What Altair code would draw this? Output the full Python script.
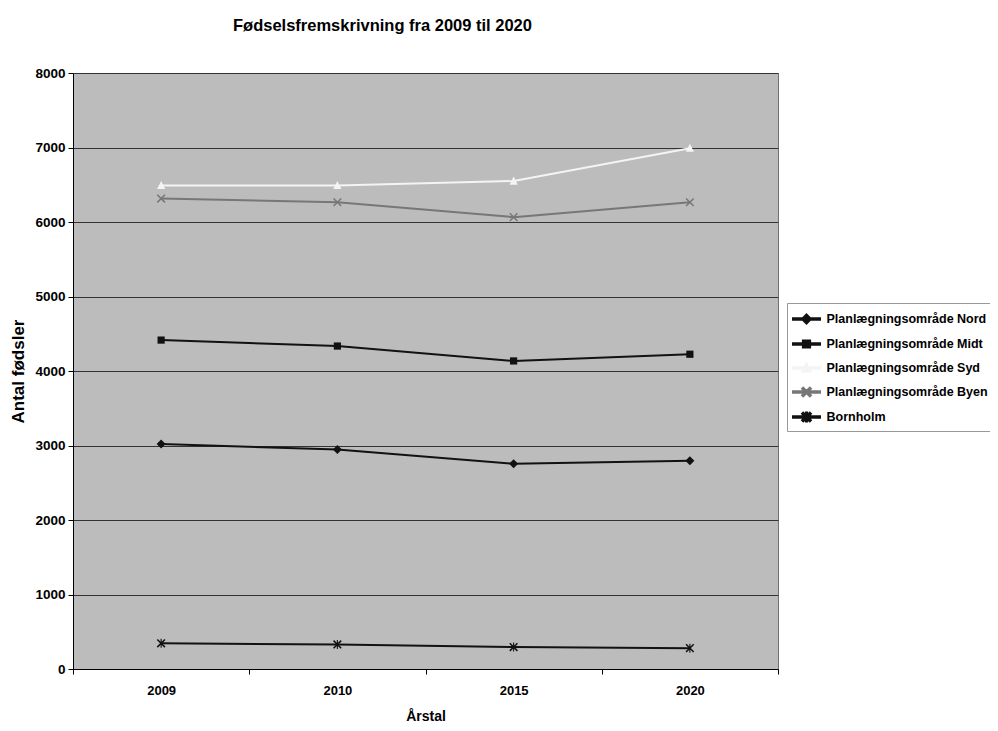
import altair as alt
import pandas as pd

# ---- data ----
years = ["2009", "2010", "2015", "2020"]
series = [
    "Planlægningsområde Nord",
    "Planlægningsområde Midt",
    "Planlægningsområde Syd",
    "Planlægningsområde Byen",
    "Bornholm",
]
nord = [3020, 2945, 2755, 2795]
midt = [4415, 4335, 4135, 4225]
syd = [6490, 6490, 6550, 6990]
byen = [6315, 6265, 6065, 6265]
bornholm = [345, 330, 295, 280]
y_ticks = [0, 1000, 2000, 3000, 4000, 5000, 6000, 7000, 8000]

# ---- styles ----
colors = ["#111111", "#111111", "#f4f4f4", "#777777", "#111111"]
widths = [2.0, 2.0, 2.0, 1.5, 2.0]
FONT = "Liberation Sans, Arial, sans-serif"

# plot markers (filled paths, unit box -1..1)
marker_paths = [
    "M0,-1L1,0L0,1L-1,0Z",
    "M-0.8,-0.8H0.8V0.8H-0.8Z",
    "M0,-1L0.9,0.8H-0.9Z",
    "M-0.73,-0.97L0.97,0.73L0.73,0.97L-0.97,-0.73Z M0.73,-0.97L0.97,-0.73L-0.73,0.97L-0.97,0.73Z",
    "M-0.73,-0.97L0.97,0.73L0.73,0.97L-0.97,-0.73Z M0.73,-0.97L0.97,-0.73L-0.73,0.97L-0.97,0.73Z M-0.12,-1H0.12V1H-0.12Z",
]
stub = "M-1.35,-0.075H1.35V0.075H-1.35Z "
legend_paths = [
    stub + "M0,-0.45L0.45,0L0,0.45L-0.45,0Z",
    stub + "M-0.36,-0.36H0.36V0.36H-0.36Z",
    stub + "M0,-0.45L0.41,0.36H-0.41Z",
    stub + "M-0.33,-0.44L0.44,0.33L0.33,0.44L-0.44,-0.33Z M0.33,-0.44L0.44,-0.33L-0.33,0.44L-0.44,0.33Z",
    stub + "M-0.33,-0.44L0.44,0.33L0.33,0.44L-0.44,-0.33Z M0.33,-0.44L0.44,-0.33L-0.33,0.44L-0.44,0.33Z M-0.055,-0.45H0.055V0.45H-0.055Z",
]

values = [nord, midt, syd, byen, bornholm]
rows = []
for s, vals in zip(series, values):
    for yr, v in zip(years, vals):
        rows.append({"series": s, "year": yr, "value": v})
df = pd.DataFrame(rows)

x_enc = alt.X(
    "year:O",
    scale=alt.Scale(type="band", domain=years, paddingInner=0, paddingOuter=0),
    axis=alt.Axis(
        title="Årstal",
        labelAngle=0,
        tickBand="extent",
        tickSize=5,
        tickColor="#000000",
        domainColor="#000000",
        labelFont=FONT,
        labelFontSize=13,
        labelFontWeight="bold",
        labelColor="#000000",
        labelPadding=10,
        titleFont=FONT,
        titleFontSize=14,
        titleFontWeight="bold",
        titleColor="#000000",
        titlePadding=12,
        grid=False,
    ),
)
y_enc = alt.Y(
    "value:Q",
    scale=alt.Scale(domain=[0, 8000], nice=False, zero=True),
    axis=alt.Axis(
        title="Antal fødsler",
        values=y_ticks,
        format="d",
        tickSize=5,
        tickColor="#000000",
        domainColor="#000000",
        labelFont=FONT,
        labelFontSize=13.5,
        labelFontWeight="bold",
        labelColor="#000000",
        labelPadding=3,
        titleFont=FONT,
        titleFontSize=17,
        titleFontWeight="bold",
        titleColor="#000000",
        titlePadding=7,
        grid=True,
        gridColor="#333333",
        gridOpacity=1,
        gridWidth=1,
    ),
)

color_scale = alt.Scale(domain=series, range=colors)

leg = dict(
    title=None,
    orient="none",
    legendX=714,
    legendY=230,
    padding=5,
    strokeColor="#999999",
    fillColor="#ffffff",
    symbolSize=400,
    symbolOffset=3.5,
    symbolOpacity=1,
    symbolStrokeWidth=0,
    labelFont=FONT,
    labelFontSize=12.5,
    labelFontWeight="bold",
    labelColor="#000000",
    labelOffset=9,
    rowPadding=5,
    labelLimit=400,
)

base = alt.Chart(df)

lines = base.mark_line().encode(
    x=x_enc,
    y=y_enc,
    color=alt.Color("series:N", scale=color_scale, legend=alt.Legend(**leg)),
    strokeWidth=alt.StrokeWidth(
        "series:N", scale=alt.Scale(domain=series, range=widths), legend=None
    ),
    detail="series:N",
)

point_layers = []
for s, p in zip(series, marker_paths):
    point_layers.append(
        base.transform_filter(alt.datum.series == s)
        .mark_point(shape=p, filled=True, size=81, opacity=1)
        .encode(
            x=x_enc,
            y=y_enc,
            color=alt.Color("series:N", scale=color_scale, legend=alt.Legend(**leg)),
        )
    )

legend_layer = base.mark_point(filled=True, opacity=0, size=400).encode(
    x=x_enc,
    y=y_enc,
    color=alt.Color("series:N", scale=color_scale, legend=alt.Legend(**leg)),
    shape=alt.Shape(
        "series:N",
        scale=alt.Scale(domain=series, range=legend_paths),
        legend=alt.Legend(**leg),
    ),
)

chart = (
    alt.layer(lines, *point_layers, legend_layer)
    .properties(
        width=705,
        height=596,
        background="#ffffff",
        autosize=alt.AutoSizeParams(type="none"),
        padding={"left": 65, "top": 65, "right": 212, "bottom": 56},
        title=alt.TitleParams(
            "Fødselsfremskrivning fra 2009 til 2020",
            anchor="start",
            frame="group",
            dx=160,
            offset=16,
            baseline="bottom",
            font=FONT,
            fontSize=16.5,
            fontWeight="bold",
            color="#000000",
        ),
    )
    .configure_view(fill="#bcbcbc", stroke="#707070", strokeWidth=1)
)

chart.save("out.html", embed_options={"renderer": "svg", "actions": False})
